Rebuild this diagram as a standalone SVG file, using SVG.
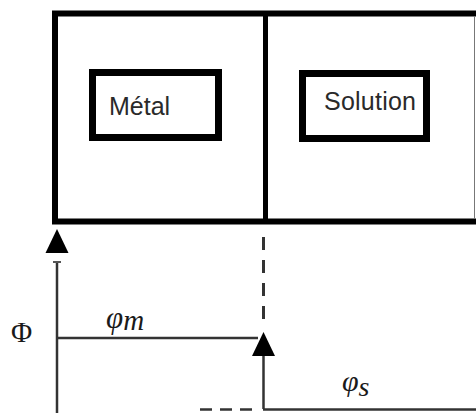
<svg xmlns="http://www.w3.org/2000/svg" width="476" height="415" viewBox="0 0 476 415">
<style>
.box{fill:none;stroke:#000;}
.lbl{font-family:"Liberation Sans",Arial,sans-serif;font-size:25px;fill:#2a2a2a;}
.ax{stroke:#333;stroke-width:2.5;fill:none;}
.dash{stroke:#333;stroke-width:3;fill:none;}
.head{fill:#000;}
.math{font-family:"Liberation Serif","Times New Roman",serif;fill:#1a1a1a;}
</style>
<defs>
<path id="tri" d="M0,0 L11.5,24 L-11.5,24 Z"/>
</defs>
<rect width="476" height="415" fill="#fff"/>
<g id="cell">
<path class="box" stroke-width="6" d="M476,13.5 H55 V221.5 H476"/>
<line x1="474.5" y1="16" x2="474.5" y2="219" stroke="#777" stroke-width="1"/>
<line x1="265.5" y1="13.5" x2="265.5" y2="221.5" stroke="#000" stroke-width="5"/>
</g>
<g id="metal">
<rect class="box" stroke-width="7" x="92.5" y="72.5" width="126" height="65"/>
<text class="lbl" x="109" y="115">Métal</text>
</g>
<g id="solution">
<rect class="box" stroke-width="7" x="302.5" y="73.5" width="124" height="65"/>
<text class="lbl" x="324" y="110" textLength="92">Solution</text>
</g>
<g id="connectors">
<line class="ax" x1="57" y1="262" x2="57" y2="413"/>
<line x1="53" y1="262" x2="61" y2="262" stroke="#555" stroke-width="2"/>
<use href="#tri" class="head" transform="translate(57,229)"/>
<line class="ax" x1="57" y1="338" x2="258" y2="338"/>
<line class="dash" x1="263.5" y1="237" x2="263.5" y2="320" stroke-dasharray="13 10"/>
<line class="ax" x1="263.5" y1="356" x2="263.5" y2="409"/>
<use href="#tri" class="head" transform="translate(263.5,332)"/>
<line class="ax" x1="263" y1="409.5" x2="476" y2="409.5"/>
<line class="ax" x1="200" y1="409.5" x2="258" y2="409.5" stroke-dasharray="12 8"/>
</g>
<g id="labels">
<text class="math" x="11" y="342" font-size="29">Φ</text>
<text class="math" x="106" y="328" font-size="31" font-style="italic">φ<tspan font-size="29" dy="2">m</tspan></text>
<text class="math" x="342" y="391" font-size="30" font-style="italic">φ<tspan font-size="28" dy="5">s</tspan></text>
</g>
</svg>
